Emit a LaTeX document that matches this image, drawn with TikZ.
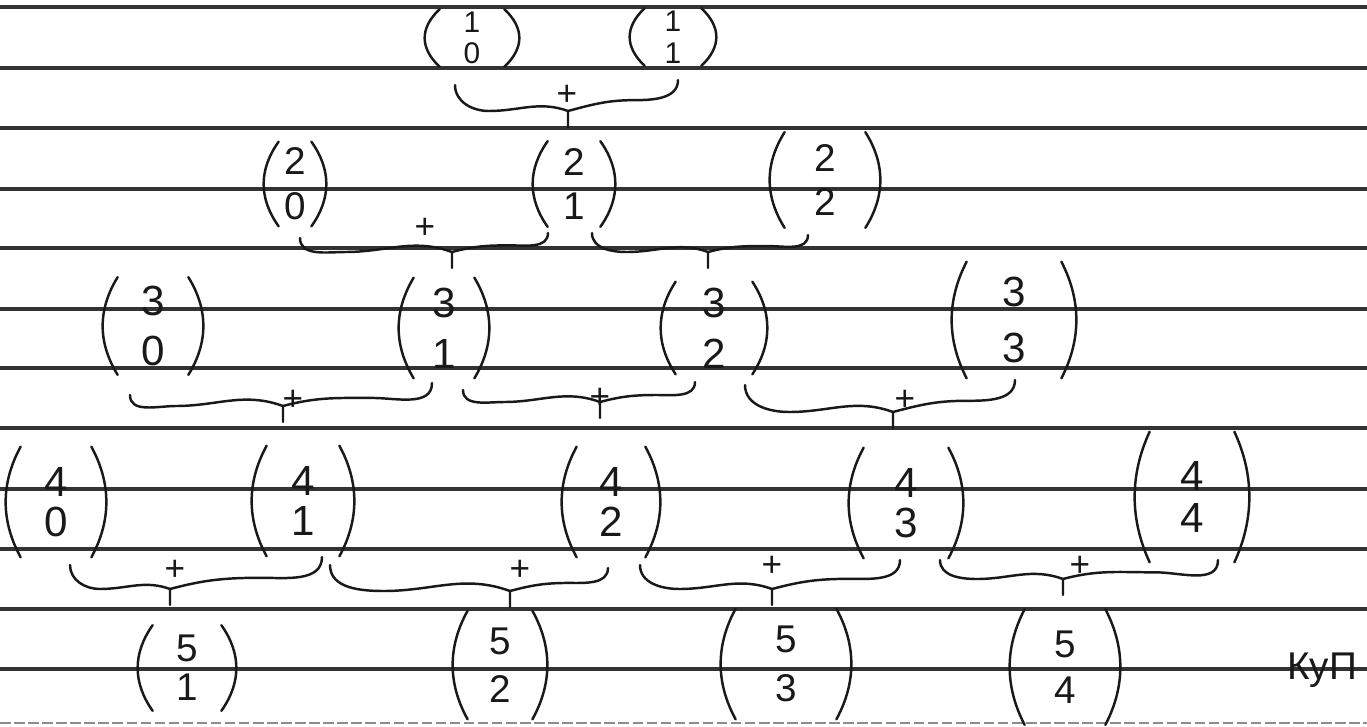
\documentclass[tikz,border=0pt]{standalone}
\usepackage{fontspec}
\setmainfont{Liberation Sans}
\usetikzlibrary{calc}
\tikzset{
  rule/.style={line width=1.8pt, draw=black!80},
  faintrule/.style={line width=1.2pt, draw=black!45, dash pattern=on 6pt off 2pt},
  hand/.style={line width=1.4pt, draw=black!90, line cap=round, line join=round},
  bin/.style={inner sep=0pt, align=center, text=black!90},
  plus/.style={inner sep=0pt, font=\fontsize{20}{20}\selectfont, text=black!90},
  sig/.style={inner sep=0pt, font=\fontsize{22}{22}\selectfont, text=black!90},
}
% name, x, y, n, k, inner width, height, font size, baselineskip
\newcommand\bnode[9]{%
  \node[bin, minimum width=#6*0.02cm, minimum height=#7*0.02cm,
        font={\fontsize{#8}{#9}\selectfont}] (#1) at (#2,-#3) {#4\\#5};
  \draw[hand] (#1.north west) .. controls +(-20,-#7/3) and +(-20,#7/3) .. (#1.south west);
  \draw[hand] (#1.north east) .. controls +(20,-#7/3) and +(20,#7/3) .. (#1.south east);
}
% L, T (tip), R : named coordinates
\newcommand\hbrace[3]{%
  \path (#2) ++(0,16) coordinate (J)
    ($(#1)!0.3!(J)$) coordinate (a1) ($(#1)!1.0!(J)$) coordinate (a2)
    ($(J)!0.6!(#3)$) coordinate (b1) ($(J)!0.35!(#3)$) coordinate (b2);
  \draw[hand] (#1) to[out=-90,in=180] (a1|-a2) to[out=0,in=160] (J) -- (#2);
  \draw[hand] (J) to[out=15,in=180] (b1|-b2) to[out=0,in=-90] (#3);
}
\begin{document}
\begin{tikzpicture}[x=0.02cm, y=0.02cm]
\useasboundingbox (0,0) rectangle (1367,-727);
\fill[white] (0,0) rectangle (1367,-727);
% ruled paper
\foreach \yy in {7,68,128,189,248,309,368,428,489,549,609,669}
  \draw[rule] (0,-\yy) -- (1367,-\yy);
\draw[faintrule] (0,-723) -- (1367,-723);

% row 1
\bnode{b10}{472}{38}{1}{0}{64}{57}{17}{18}
\bnode{b11}{673}{37}{1}{1}{56}{57}{17}{18}
% row 2
\bnode{b20}{295}{184}{2}{0}{32}{84}{22}{25.6}
\bnode{b21}{574}{184}{2}{1}{52}{85}{22}{25.6}
\bnode{b22}{825}{180}{2}{2}{80}{95}{22}{25.6}
% row 3
\bnode{b30}{153}{326}{3}{0}{70}{97}{24}{29}
\bnode{b31}{444}{328}{3}{1}{60}{100}{24}{29}
\bnode{b32}{714}{328}{3}{2}{76}{92}{24}{29}
\bnode{b33}{1014}{320}{3}{3}{94}{116}{24}{32}
% row 4
\bnode{b40}{56}{502}{4}{0}{70}{110}{24}{22.7}
\bnode{b41}{303}{501}{4}{1}{72}{110}{24}{22.7}
\bnode{b42}{611}{502}{4}{2}{68}{110}{24}{22.7}
\bnode{b43}{906}{503}{4}{3}{84}{110}{24}{22.7}
\bnode{b44}{1192}{497}{4}{4}{84}{130}{24}{23.5}
% row 5
\bnode{b51}{187}{668}{5}{1}{68}{85}{22}{22}
\bnode{b52}{500}{665}{5}{2}{64}{108}{22}{27}
\bnode{b53}{786}{664}{5}{3}{100}{110}{22}{28}
\bnode{b54}{1065}{667}{5}{4}{80}{115}{22}{26}

% brace end points and tips
\coordinate (L1) at (455,-85);  \coordinate (T1) at (568,-127); \coordinate (R1) at (678,-80);
\coordinate (L2a) at (300,-238); \coordinate (T2a) at (452,-268); \coordinate (R2a) at (548,-233);
\coordinate (L2b) at (592,-233); \coordinate (T2b) at (708,-268); \coordinate (R2b) at (808,-235);
\coordinate (L3a) at (130,-395); \coordinate (T3a) at (283,-422); \coordinate (R3a) at (432,-383);
\coordinate (L3b) at (463,-390); \coordinate (T3b) at (600,-418); \coordinate (R3b) at (695,-382);
\coordinate (L3c) at (745,-385); \coordinate (T3c) at (893,-428); \coordinate (R3c) at (1015,-380);
\coordinate (L4a) at (70,-565);  \coordinate (T4a) at (170,-605); \coordinate (R4a) at (322,-557);
\coordinate (L4b) at (330,-565); \coordinate (T4b) at (510,-607); \coordinate (R4b) at (608,-568);
\coordinate (L4c) at (640,-565); \coordinate (T4c) at (772,-605); \coordinate (R4c) at (900,-560);
\coordinate (L4d) at (940,-560); \coordinate (T4d) at (1063,-595); \coordinate (R4d) at (1218,-560);

\hbrace{L1}{T1}{R1}
\hbrace{L2a}{T2a}{R2a}
\hbrace{L2b}{T2b}{R2b}
\hbrace{L3a}{T3a}{R3a}
\hbrace{L3b}{T3b}{R3b}
\hbrace{L3c}{T3c}{R3c}
\hbrace{L4a}{T4a}{R4a}
\hbrace{L4b}{T4b}{R4b}
\hbrace{L4c}{T4c}{R4c}
\hbrace{L4d}{T4d}{R4d}

% plus signs
\node[plus] (p1) at (567,-95) {+};
\node[plus] (p2) at (425,-228) {+};
\node[plus] (p3a) at (293,-400) {+};
\node[plus] (p3b) at (600,-398) {+};
\node[plus] (p3c) at (905,-400) {+};
\node[plus] (p4a) at (175,-570) {+};
\node[plus] (p4b) at (520,-570) {+};
\node[plus] (p4c) at (772,-566) {+};
\node[plus] (p4d) at (1080,-566) {+};

% signature
\node[sig] (s) at (1322,-670) {КуП};
\end{tikzpicture}
\end{document}
